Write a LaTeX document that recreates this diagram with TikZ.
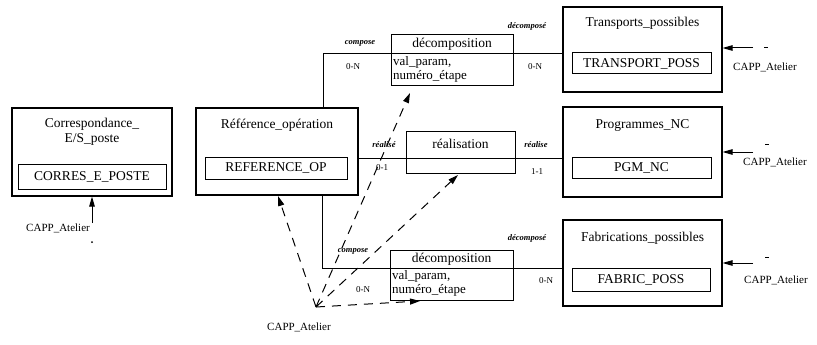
\documentclass[tikz,border=0pt]{standalone}
\usepackage{fontspec}
\setmainfont{Liberation Serif}
\usetikzlibrary{arrows.meta}

\begin{document}
\begin{tikzpicture}[x=1pt,y=-1pt,
  ebox/.style={draw, line width=1.1pt, inner sep=0pt},
  ibox/.style={draw, line width=1pt, inner sep=0pt, font=\fontsize{13.5}{15}\selectfont},
  rbox/.style={draw, line width=1pt, inner sep=0pt},
  title/.style={inner sep=0pt, font=\fontsize{13.5}{15}\selectfont, align=center},
  attr/.style={inner sep=0pt, font=\fontsize{13}{14.5}\selectfont, align=left},
  role/.style={inner sep=0pt, font=\fontsize{8.5}{9}\selectfont\bfseries\itshape},
  card/.style={inner sep=0pt, font=\fontsize{9}{10}\selectfont},
  capp/.style={inner sep=0pt, font=\fontsize{11}{12}\selectfont},
  link/.style={line width=1pt},
  feed/.style={link, -{Triangle[length=10pt,width=5.5pt]}},
  dep/.style={link, dash pattern=on 9pt off 7pt, -{Triangle[length=10pt,width=6pt]}}
]
\useasboundingbox (0,0) rectangle (817,345);

% ---------- entities ----------
\node[ebox, minimum width=160pt, minimum height=88pt] (corr) at (92,152) {};
\node[title] (corrT) at (92,132) {Correspondance\_\\E/S\_poste};
\node[ibox, minimum width=148pt, minimum height=25pt] (corrK) at (92,176.5) {CORRES\_E\_POSTE};

\node[ebox, minimum width=162pt, minimum height=87pt] (refop) at (277,151.5) {};
\node[title] (refopT) at (277,125) {Référence\_opération};
\node[ibox, minimum width=142pt, minimum height=22pt] (refopK) at (276,168) {REFERENCE\_OP};

\node[ebox, minimum width=159pt, minimum height=85pt] (transp) at (642.5,49.5) {};
\node[title] (transpT) at (642.5,23) {Transports\_possibles};
\node[ibox, minimum width=139pt, minimum height=21pt] (transpK) at (641.5,63.5) {TRANSPORT\_POSS};

\node[ebox, minimum width=159pt, minimum height=90pt] (prog) at (642.5,152) {};
\node[title] (progT) at (642.5,125) {Programmes\_NC};
\node[ibox, minimum width=139pt, minimum height=21pt] (progK) at (641.5,167.5) {PGM\_NC};

\node[ebox, minimum width=159pt, minimum height=86pt] (fabr) at (642.5,263) {};
\node[title] (fabrT) at (642.5,238) {Fabrications\_possibles};
\node[ibox, minimum width=138pt, minimum height=23pt] (fabrK) at (641,279.5) {FABRIC\_POSS};

% ---------- relationships ----------
\node[rbox, minimum width=122pt, minimum height=51pt] (dtop) at (452,60.5) {};
\node[title] (dtopT) at (452,44.5) {décomposition};
\node[attr, anchor=north west] (dtopA) at (393,56) {val\_param,\\numéro\_étape};

\node[rbox, minimum width=109pt, minimum height=42pt] (real) at (460.5,152) {};
\node[title] (realT) at (460.5,144) {réalisation};

\node[rbox, minimum width=123pt, minimum height=50pt] (dbot) at (451.5,275) {};
\node[title] (dbotT) at (451.5,259) {décomposition};
\node[attr, anchor=north west] (dbotA) at (392,270) {val\_param,\\numéro\_étape};

% ---------- links between entities and relationships ----------
\coordinate (jt) at (323,54);
\coordinate (jm) at (358,158);
\coordinate (jb) at (322,268);
\draw[link] (refop.north -| jt) -- (jt) -- (transp.west |- jt);
\draw[link] (refop.east |- jm) -- (prog.west |- jm);
\draw[link] (refop.south -| jb) -- (jb) -- (fabr.west |- jb);

% roles and cardinalities
\node[role] (r1) at (360,43) {compose};
\node[role] (r2) at (527,26) {décomposé};
\node[card] (c1) at (353,67) {0-N};
\node[card] (c2) at (535,67) {0-N};
\node[role] (r3) at (384,145) {réalisé};
\node[role] (r4) at (536,145) {réalise};
\node[card] (c3) at (382,168) {0-1};
\node[card] (c4) at (537,172) {1-1};
\node[role] (r5) at (353,251) {compose};
\node[role] (r6) at (527,238) {décomposé};
\node[card] (c5) at (363,290) {0-N};
\node[card] (c6) at (546,281) {0-N};

% ---------- CAPP_Atelier feeds ----------
\coordinate (fc) at (92,223);
\draw[feed] (fc) -- (corr.south -| fc);
\coordinate (fcd) at (92,242);
\fill (fcd) circle (1pt);
\node[capp, anchor=east] (cappC) at (90,228) {CAPP\_Atelier};

\coordinate (ft) at (753,48);
\draw[feed] (ft) -- (transp.east |- ft);
\coordinate (ftd) at (764,48);
\draw[link] (ftd) -- ++(4,0);
\node[capp] (cappT) at (765,67) {CAPP\_Atelier};

\coordinate (fp) at (753,152);
\draw[feed] (fp) -- (prog.east |- fp);
\coordinate (fpd) at (765,144);
\draw[link] (fpd) -- ++(4,0);
\node[capp] (cappP) at (775,162) {CAPP\_Atelier};

\coordinate (ff) at (753,263);
\draw[feed] (ff) -- (fabr.east |- ff);
\coordinate (ffd) at (765,257);
\draw[link] (ffd) -- ++(4,0);
\node[capp] (cappF) at (776,280) {CAPP\_Atelier};

% ---------- dependencies from the bottom CAPP_Atelier ----------
\coordinate (src) at (316,307);
\node[capp] (cappB) at (299,327) {CAPP\_Atelier};
\coordinate (tR) at (278,196);
\coordinate (tD) at (410,93);
\coordinate (tM) at (458,175);
\coordinate (tB) at (420,301);
\draw[dep] (src) -- (tR);
\draw[dep] (src) -- (tD);
\draw[dep] (src) -- (tM);
\draw[dep] (src) -- (tB);
\end{tikzpicture}
\end{document}
